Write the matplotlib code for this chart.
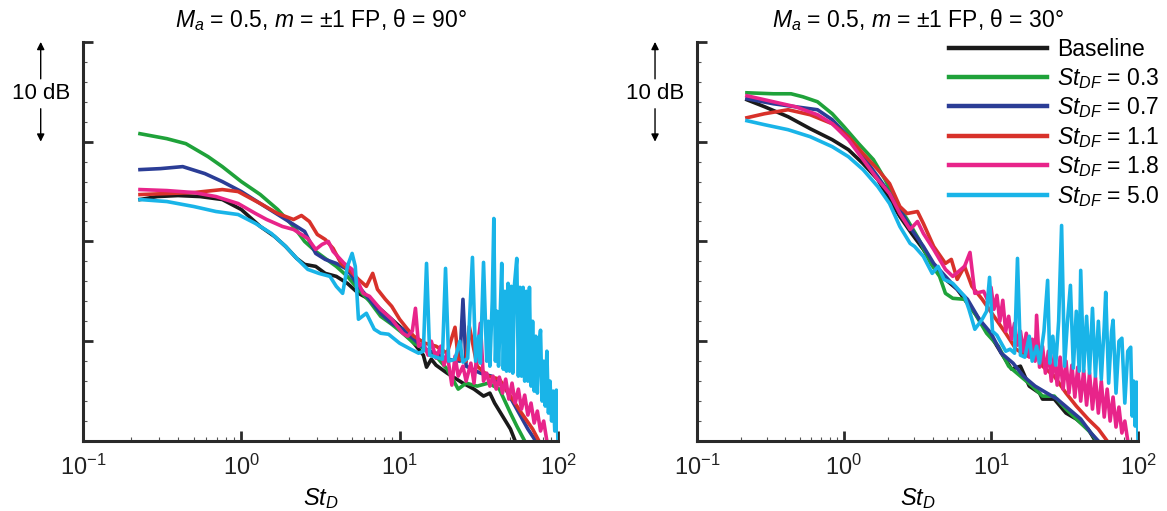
import numpy as np
import matplotlib
matplotlib.use('Agg')
import matplotlib.pyplot as plt
from matplotlib.ticker import LogLocator, NullFormatter, MultipleLocator

plt.rcParams['font.family'] = ['Liberation Sans', 'DejaVu Sans']
plt.rcParams['mathtext.fontset'] = 'custom'
plt.rcParams['mathtext.rm'] = 'Liberation Sans'
plt.rcParams['mathtext.it'] = 'Liberation Sans:italic'

# ---- data: log10(St_D) and relative level in dB ----
# theta = 90 deg
base90_lg = [-0.64, -0.53, -0.40, -0.26, -0.12, 0.00, 0.12, 0.21, 0.28, 0.35, 0.40, 0.47, 0.53, 0.60, 0.67,
             0.74, 0.81, 0.88, 0.95, 1.02, 1.09, 1.15, 1.17, 1.20, 1.23, 1.30, 1.40, 1.47, 1.53, 1.57, 1.60,
             1.65, 1.70, 1.73]
base90_db = [24.2, 24.5, 24.6, 24.5, 24.2, 23.2, 21.5, 20.5, 19.5, 18.3, 17.7, 17.5, 16.8, 16.5, 15.8,
             14.8, 14.2, 13.2, 12.2, 11.2, 9.8, 8.6, 7.4, 8.2, 7.6, 6.8, 5.8, 5.2, 4.5, 4.8, 3.8,
             2.5, 1.2, 0.0]

g03_90_lg = [-0.64, -0.47, -0.35, -0.21, -0.12, 0.00, 0.12, 0.23, 0.33, 0.40, 0.47, 0.53, 0.60, 0.67, 0.74,
             0.81, 0.88, 0.95, 1.02, 1.09, 1.16, 1.23, 1.30, 1.37, 1.42, 1.49, 1.56, 1.63, 1.70, 1.74, 1.79]
g03_90_db = [30.8, 30.3, 29.8, 28.5, 27.5, 26.0, 24.7, 23.2, 21.5, 20.0, 19.0, 18.3, 17.5, 16.5, 15.2,
             14.0, 12.5, 11.7, 10.8, 9.8, 9.2, 8.5, 7.2, 5.2, 5.8, 5.5, 5.8, 5.2, 2.8, 1.5, 0.0]

b07_90_lg = [-0.64, -0.51, -0.37, -0.23, -0.12, 0.00, 0.12, 0.23, 0.33, 0.40, 0.47, 0.53, 0.60, 0.67, 0.74,
             0.81, 0.88, 0.95, 1.02, 1.09, 1.16, 1.23, 1.30, 1.38, 1.40, 1.42, 1.51, 1.58, 1.67, 1.74, 1.81, 1.86]
b07_90_db = [27.2, 27.3, 27.5, 26.8, 26.0, 25.0, 23.8, 22.7, 21.7, 21.0, 18.8, 18.2, 17.8, 17.2, 15.5,
             14.2, 12.8, 11.8, 11.2, 10.2, 9.2, 8.8, 8.2, 8.0, 14.2, 7.5, 6.8, 6.5, 5.2, 3.2, 1.2, 0.0]

r11_90_lg = [-0.64, -0.47, -0.30, -0.12, -0.02, 0.12, 0.23, 0.33, 0.38, 0.43, 0.48, 0.53, 0.58, 0.63, 0.69,
             0.74, 0.79, 0.83, 0.86, 0.91, 0.95, 1.00, 1.05, 1.09, 1.16, 1.23, 1.30, 1.35, 1.37, 1.42, 1.44,
             1.49, 1.56, 1.63, 1.70, 1.77, 1.84, 1.88]
r11_90_db = [24.7, 24.8, 24.9, 25.2, 25.0, 23.8, 22.8, 22.2, 22.6, 22.0, 20.7, 20.2, 19.3, 17.8, 17.0,
             16.2, 15.5, 16.8, 15.2, 14.2, 13.5, 12.2, 11.2, 10.5, 9.8, 9.5, 8.8, 11.4, 8.2, 8.0, 11.5,
             7.5, 6.5, 6.2, 4.5, 2.8, 1.2, 0.0]

p18_90_lg = [-0.64, -0.47, -0.30, -0.16, -0.02, 0.09, 0.16, 0.26, 0.33, 0.42, 0.47, 0.51, 0.55, 0.58, 0.65,
             0.70, 0.77, 0.81, 0.88, 0.95, 1.02, 1.05, 1.08, 1.10, 1.12, 1.15, 1.18, 1.20, 1.23, 1.26, 1.28,
             1.30, 1.33, 1.35, 1.37, 1.40, 1.42, 1.45, 1.47, 1.49, 1.51, 1.53, 1.55, 1.57, 1.59, 1.61, 1.63,
             1.65, 1.67, 1.69, 1.71, 1.73, 1.75, 1.77, 1.79, 1.81, 1.83, 1.85, 1.87, 1.89, 1.91, 1.93]
p18_90_db = [25.2, 25.1, 24.9, 24.5, 23.8, 22.8, 22.2, 21.5, 21.2, 20.3, 19.2, 19.7, 20.0, 19.0, 17.8,
             17.2, 14.8, 14.5, 13.2, 12.2, 10.8, 10.5, 11.0, 13.3, 9.5, 9.8, 8.6, 10.0, 8.3, 9.5, 7.6,
             8.8, 5.6, 8.5, 6.5, 7.5, 6.0, 7.8, 5.8, 9.0, 11.8, 6.0, 6.8, 5.5, 6.5, 5.2, 6.4,
             4.8, 6.2, 4.2, 5.8, 3.8, 5.2, 3.2, 4.6, 2.6, 3.8, 1.8, 3.0, 1.0, 2.0, 0.0]

c50_90_lg = [-0.64, -0.47, -0.30, -0.16, -0.02, 0.09, 0.19, 0.28, 0.35, 0.42, 0.49, 0.56, 0.60, 0.64, 0.67,
             0.70, 0.72, 0.74, 0.79, 0.84, 0.88, 0.93, 1.00, 1.07, 1.12, 1.15, 1.17, 1.19, 1.23, 1.27, 1.29,
             1.31, 1.35, 1.38, 1.40, 1.43, 1.46, 1.48, 1.50, 1.51, 1.53, 1.55, 1.56, 1.57, 1.585, 1.595, 1.605,
             1.615, 1.625, 1.635, 1.645, 1.655, 1.665, 1.675, 1.685, 1.695, 1.705, 1.715, 1.725, 1.74, 1.75,
             1.76, 1.77, 1.78, 1.79, 1.80, 1.81, 1.82, 1.83, 1.84, 1.85, 1.86, 1.87, 1.88, 1.89, 1.90, 1.91,
             1.92, 1.93, 1.94, 1.95, 1.96, 1.97, 1.98, 1.99, 2.00]
c50_90_db = [24.2, 24.0, 23.5, 23.0, 22.7, 21.8, 20.8, 19.5, 18.3, 17.2, 16.8, 16.5, 15.5, 14.8, 17.5,
             18.8, 17.5, 12.2, 12.8, 11.2, 10.8, 10.7, 9.8, 9.2, 8.8, 9.0, 17.8, 8.6, 8.4, 8.2, 17.3,
             8.0, 8.2, 10.0, 7.9, 8.3, 18.4, 8.0, 10.5, 7.8, 17.9, 8.0, 12.0, 7.5, 14.0, 22.3, 8.0,
             13.0, 7.5, 12.5, 17.8, 7.2, 15.0, 7.0, 15.8, 7.0, 15.5, 6.8, 15.6, 18.3, 6.5,
             15.4, 6.5, 15.4, 6.0, 15.0, 6.0, 15.4, 5.5, 12.0, 5.0, 10.5, 4.8, 9.5, 11.1, 4.0, 8.0,
             3.5, 9.0, 2.8, 6.0, 2.0, 5.0, 1.0, 5.1, 0.0]

# theta = 30 deg
base30_lg = [-0.66, -0.54, -0.38, -0.23, -0.08, 0.03, 0.13, 0.23, 0.31, 0.38, 0.46, 0.54, 0.61, 0.69, 0.77,
             0.84, 0.92, 1.00, 1.07, 1.14, 1.20, 1.26, 1.33, 1.35, 1.43, 1.51, 1.58, 1.66, 1.71]
base30_db = [34.2, 33.5, 32.5, 31.3, 30.2, 29.2, 27.8, 26.2, 24.2, 22.5, 20.8, 19.2, 17.5, 16.2, 15.2,
             13.8, 12.2, 10.5, 8.8, 7.2, 7.5, 5.5, 4.8, 4.2, 4.2, 2.8, 2.2, 1.2, 0.0]

g03_30_lg = [-0.66, -0.48, -0.36, -0.28, -0.18, -0.08, 0.00, 0.10, 0.20, 0.28, 0.36, 0.43, 0.51, 0.59, 0.65,
             0.69, 0.74, 0.82, 0.89, 0.97, 1.05, 1.12, 1.20, 1.28, 1.35, 1.43, 1.51, 1.56, 1.61, 1.68, 1.72]
g03_30_db = [34.9, 34.8, 34.8, 34.5, 34.0, 32.8, 31.5, 29.8, 28.2, 26.2, 23.8, 22.2, 20.2, 17.8, 16.5,
             14.8, 14.3, 14.2, 12.8, 10.8, 9.5, 7.5, 6.5, 5.5, 4.5, 4.5, 3.2, 2.5, 1.8, 0.8, 0.0]

b07_30_lg = [-0.66, -0.48, -0.33, -0.18, -0.08, 0.03, 0.13, 0.23, 0.31, 0.38, 0.46, 0.54, 0.61, 0.69, 0.77,
             0.84, 0.92, 1.00, 1.07, 1.15, 1.22, 1.30, 1.38, 1.45, 1.53, 1.61, 1.68, 1.73]
b07_30_db = [34.3, 33.8, 33.5, 33.2, 32.2, 30.5, 28.5, 26.5, 24.8, 23.2, 21.2, 19.5, 17.8, 16.5, 15.2,
             14.2, 12.2, 10.8, 8.8, 7.8, 6.5, 5.5, 4.8, 4.2, 3.2, 2.2, 0.8, 0.0]

r11_30_lg = [-0.66, -0.54, -0.38, -0.23, -0.08, 0.03, 0.13, 0.23, 0.31, 0.38, 0.43, 0.50, 0.54, 0.61, 0.69,
             0.73, 0.77, 0.82, 0.87, 0.94, 1.02, 1.10, 1.17, 1.25, 1.30, 1.35, 1.43, 1.51, 1.58, 1.66, 1.73, 1.79]
r11_30_db = [32.4, 32.8, 33.2, 32.7, 31.8, 30.5, 28.8, 27.2, 25.8, 23.5, 22.8, 23.0, 21.8, 19.5, 17.8,
             18.2, 16.2, 17.5, 15.5, 14.2, 12.5, 10.8, 9.2, 8.5, 10.2, 7.5, 6.5, 4.8, 3.5, 2.2, 1.2, 0.0]

p18_30_lg = [-0.66, -0.48, -0.33, -0.18, -0.08, 0.03, 0.13, 0.23, 0.31, 0.38, 0.45, 0.50, 0.54, 0.61, 0.69,
             0.74, 0.82, 0.857, 0.89, 0.95, 0.98, 1.00, 1.02, 1.04, 1.06, 1.08, 1.10, 1.12, 1.14, 1.16, 1.18,
             1.20, 1.22, 1.24, 1.26, 1.28, 1.30, 1.31, 1.33, 1.35, 1.37, 1.39, 1.41, 1.43, 1.45, 1.47, 1.49,
             1.51, 1.53, 1.55, 1.57, 1.59, 1.61, 1.63, 1.65, 1.67, 1.69, 1.71, 1.73, 1.75, 1.77, 1.79, 1.81,
             1.83, 1.85, 1.87, 1.89, 1.91, 1.93]
p18_30_db = [34.6, 34.0, 33.5, 32.7, 31.8, 30.2, 28.2, 26.2, 24.8, 22.8, 21.2, 22.0, 20.8, 19.2, 17.2,
             16.5, 17.5, 18.9, 14.8, 15.0, 14.0, 15.4, 13.2, 14.6, 12.0, 14.1, 11.0, 12.5, 10.2, 11.8, 9.6,
             11.0, 9.0, 10.8, 8.4, 10.2, 8.0, 12.6, 7.4, 9.5, 6.8, 9.0, 6.0, 8.6, 5.6, 8.4, 5.2,
             8.0, 4.8, 7.6, 4.4, 7.4, 4.0, 7.1, 3.6, 6.8, 3.2, 6.4, 2.8, 6.0, 2.4, 5.2, 2.0,
             4.4, 1.4, 3.4, 0.8, 2.0, 0.0]

c50_30_lg = [-0.66, -0.54, -0.38, -0.23, -0.08, 0.03, 0.13, 0.23, 0.31, 0.38, 0.45, 0.48, 0.54, 0.60, 0.64,
             0.68, 0.74, 0.82, 0.85, 0.89, 0.94, 0.97, 0.99, 1.01, 1.04, 1.07, 1.10, 1.13, 1.16, 1.18, 1.20,
             1.23, 1.26, 1.28, 1.31, 1.33, 1.36, 1.385, 1.40, 1.42, 1.44, 1.46, 1.48, 1.50, 1.52, 1.54, 1.56,
             1.58, 1.60, 1.61, 1.63, 1.65, 1.67, 1.69, 1.71, 1.73, 1.75, 1.77, 1.78, 1.80, 1.82, 1.83, 1.85,
             1.87, 1.89, 1.91, 1.93, 1.95, 1.96, 1.97, 1.98, 1.99, 2.00]
c50_30_db = [32.1, 31.7, 31.2, 30.5, 29.5, 28.5, 27.2, 25.5, 23.8, 21.5, 19.8, 19.5, 18.5, 16.8, 17.5,
             16.2, 15.8, 14.5, 13.2, 11.2, 12.2, 13.0, 16.4, 11.0, 10.6, 9.8, 9.0, 9.2, 8.8, 18.3, 8.6,
             8.4, 10.5, 8.0, 9.5, 7.8, 11.0, 16.1, 7.8, 10.5, 7.6, 12.0, 21.6, 7.5, 12.0, 15.6, 7.3,
             13.0, 7.0, 17.1, 7.0, 12.5, 6.8, 13.3, 6.5, 12.0, 6.2, 11.5, 14.9, 5.8, 11.0, 12.1, 4.8,
             10.0, 10.3, 3.8, 9.0, 9.4, 2.5, 6.0, 1.5, 5.9, 0.0]

labels = ['Baseline', '$St_{DF}$ = 0.3', '$St_{DF}$ = 0.7', '$St_{DF}$ = 1.1',
          '$St_{DF}$ = 1.8', '$St_{DF}$ = 5.0']
colors = ['#1a1a1a', '#1fa23a', '#2b3d96', '#d8312a', '#e8248a', '#19b4e8']

panels = [
    ('$M_a$ = 0.5, $m$ = ±1 FP, θ = 90°',
     [(base90_lg, base90_db), (g03_90_lg, g03_90_db), (b07_90_lg, b07_90_db),
      (r11_90_lg, r11_90_db), (p18_90_lg, p18_90_db), (c50_90_lg, c50_90_db)]),
    ('$M_a$ = 0.5, $m$ = ±1 FP, θ = 30°',
     [(base30_lg, base30_db), (g03_30_lg, g03_30_db), (b07_30_lg, b07_30_db),
      (r11_30_lg, r11_30_db), (p18_30_lg, p18_30_db), (c50_30_lg, c50_30_db)]),
]

fig = plt.figure(figsize=(11.67, 5.11), dpi=100)
ax_l = fig.add_axes([0.0711, 0.137, 0.407, 0.781])
ax_r = fig.add_axes([0.5972, 0.137, 0.378, 0.781])

for ax, (title, series) in zip([ax_l, ax_r], panels):
    for (lg, db), c, lab in zip(series, colors, labels):
        ax.plot(10 ** np.array(lg), db, color=c, lw=2.6, label=lab)
    ax.set_xscale('log')
    ax.set_xlim(0.1, 100)
    ax.set_ylim(0, 40)
    ax.set_title(title, fontsize=16.5, pad=11)
    ax.set_xlabel('$St_D$', fontsize=17, labelpad=4)
    for s in ['top', 'right']:
        ax.spines[s].set_visible(False)
    for s in ['left', 'bottom']:
        ax.spines[s].set_linewidth(2.2)
        ax.spines[s].set_color('#2a2a2a')
    ax.xaxis.set_major_locator(LogLocator(base=10, numticks=10))
    ax.xaxis.set_minor_locator(LogLocator(base=10, subs=np.arange(2, 10), numticks=10))
    ax.xaxis.set_minor_formatter(NullFormatter())
    ax.yaxis.set_major_locator(MultipleLocator(10))
    ax.yaxis.set_minor_locator(MultipleLocator(2))
    ax.tick_params(which='major', direction='in', length=7, width=2, colors='#2a2a2a',
                   labelsize=17, labelcolor='#222222', pad=10)
    ax.tick_params(which='minor', direction='in', length=3, width=0.8, colors='#555555')
    ax.tick_params(axis='y', which='both', labelleft=False)

    # 10 dB scale marker
    tr = ax.get_yaxis_transform()
    xf = -0.089 if ax is ax_l else -0.095
    ax.text(xf, 34.8, '10 dB', transform=tr, ha='center', va='center', fontsize=16, clip_on=False)
    ax.annotate('', xy=(xf, 40), xycoords=tr, xytext=(xf, 36.3), textcoords=tr,
                arrowprops=dict(arrowstyle='-|>', color='black', lw=1, mutation_scale=11,
                                shrinkA=0, shrinkB=0))
    ax.annotate('', xy=(xf, 30), xycoords=tr, xytext=(xf, 33.3), textcoords=tr,
                arrowprops=dict(arrowstyle='-|>', color='black', lw=1, mutation_scale=11,
                                shrinkA=0, shrinkB=0))

ax_r.legend(loc='upper right', bbox_to_anchor=(0.994, 0.925), bbox_transform=fig.transFigure,
            frameon=False, fontsize=16.5, handlelength=4.3, handletextpad=0.45,
            labelspacing=0.2, borderpad=0, borderaxespad=0)
for line in ax_r.get_legend().get_lines():
    line.set_linewidth(3.2)

fig.savefig('out.png', dpi=100)
